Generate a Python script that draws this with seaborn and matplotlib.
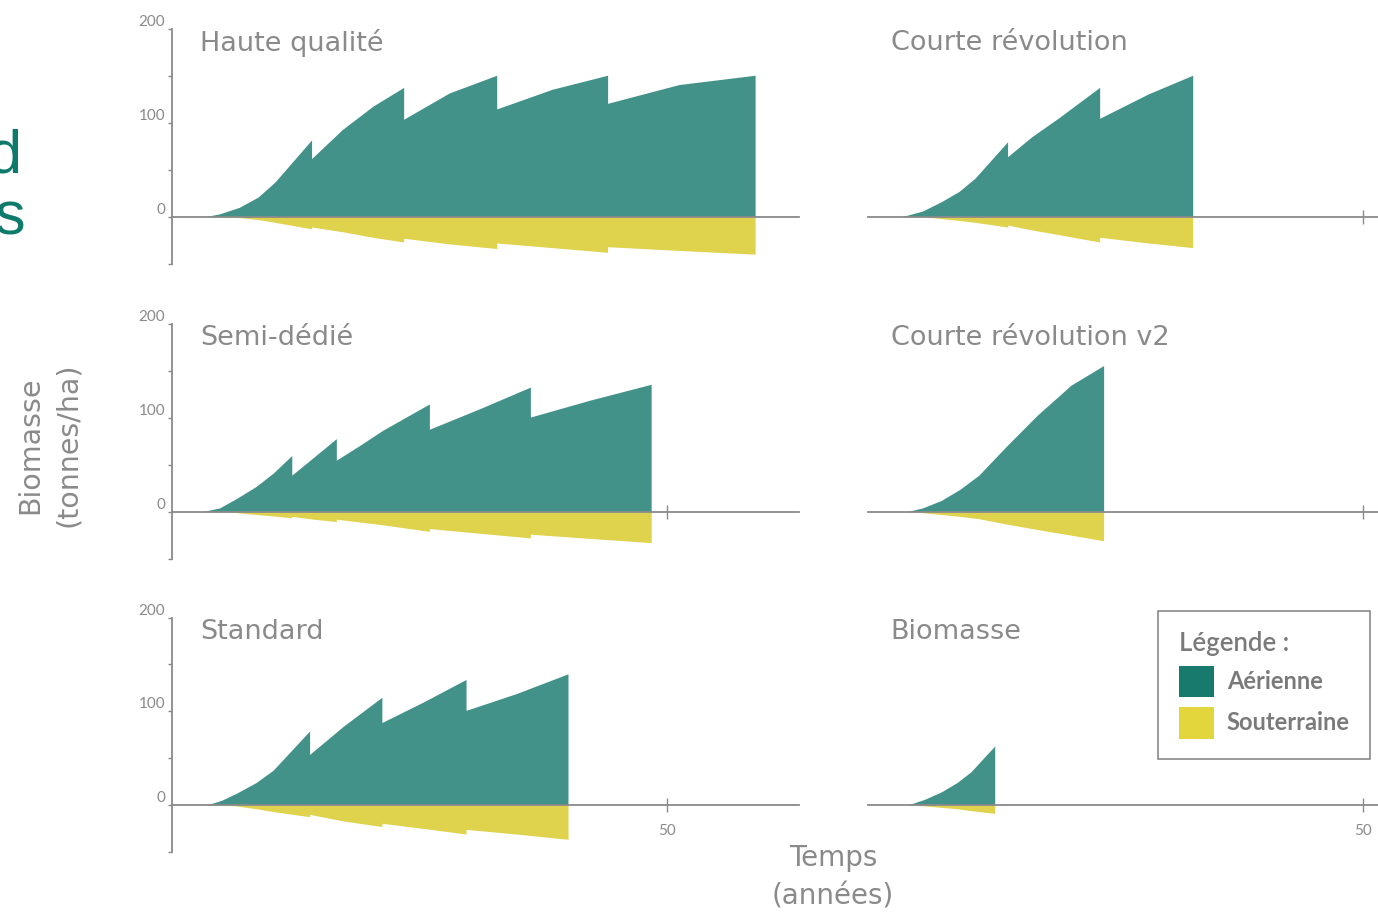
import matplotlib
matplotlib.use("Agg")
import matplotlib.pyplot as plt
from matplotlib.patches import Patch
import seaborn as sns

# ---- data (years, t/ha) ----
# a year appears twice where a harvest cuts the standing biomass
hq_years = [3.3, 4.8, 6.8, 8.7, 10.4, 14.1, 14.1, 17.2, 20.3, 23.4, 23.4, 28.0, 32.8, 32.8, 38.4, 44.0, 44.0, 51.2, 58.9]
hq_aerial = [0, 3, 10, 21, 37, 82, 62, 93, 118, 138, 104, 132, 151, 115, 136, 151, 121, 141, 151]
hq_below = [0, 0, -1, -3, -6, -13, -11, -16, -22, -27, -23, -29, -34, -28, -33, -38, -32, -36, -40]

cr_years = [3.4, 5.5, 7.4, 9.2, 10.8, 14.1, 14.1, 16.5, 19.2, 23.4, 23.4, 28.3, 32.8]
cr_aerial = [0, 6, 16, 27, 41, 80, 64, 85, 105, 138, 105, 131, 151]
cr_below = [0, 0, -2, -4, -6, -11, -9, -14, -19, -27, -22, -28, -33]

sd_years = [3.0, 4.8, 6.5, 8.5, 10.2, 12.1, 12.1, 14.3, 16.6, 16.6, 19.0, 21.3, 26.0, 26.0, 31.1, 36.2, 36.2, 42.2, 48.4]
sd_aerial = [0, 4, 14, 27, 41, 60, 39, 58, 78, 55, 71, 87, 115, 88, 110, 133, 101, 119, 136]
sd_below = [0, 0, -1, -3, -4.5, -6.5, -5, -8, -10.5, -8, -11, -14, -21, -18, -23, -28, -24, -28.5, -33]

cr2_years = [3.9, 5.5, 7.4, 9.3, 11.2, 13.9, 17.1, 20.5, 23.8]
cr2_aerial = [0, 4, 12, 24, 39, 69, 103, 135, 156]
cr2_below = [0, -1, -3, -5, -7.5, -13, -19, -25, -31]

st_years = [3.5, 5.0, 6.5, 8.5, 10.2, 13.9, 13.9, 17.3, 21.2, 21.2, 25.4, 29.7, 29.7, 34.8, 40.0]
st_aerial = [0, 5, 12.5, 24, 37, 79, 54, 84, 115, 88, 110, 134, 101, 119, 140]
st_below = [0, 0, -1, -4, -7, -12.5, -10, -17, -23, -19.5, -25, -31, -26, -31, -36.6]

bm_years = [4.0, 5.7, 7.4, 9.0, 10.4, 12.8]
bm_aerial = [0, 6, 14, 24, 35.5, 63]
bm_below = [0, -1, -2.5, -4, -6, -9]

titles = ["Haute qualité", "Courte révolution", "Semi-dédié",
          "Courte révolution v2", "Standard", "Biomasse"]
series = [(hq_years, hq_aerial, hq_below), (cr_years, cr_aerial, cr_below),
          (sd_years, sd_aerial, sd_below), (cr2_years, cr2_aerial, cr2_below),
          (st_years, st_aerial, st_below), (bm_years, bm_aerial, bm_below)]

TEAL = "#43928a"
YELLOW = "#dfd24d"
TEAL_LEG = "#187a6d"
YELLOW_LEG = "#e3d53c"
GREY = "#8a8a8a"
TXT = ["DejaVu Sans"]

sns.set_theme(style="white")
plt.rcParams["font.family"] = ["Lato", "DejaVu Sans"]

W, H = 1378, 916
fig = plt.figure(figsize=(W / 100, H / 100), dpi=100)

px_year = 9.9      # pixels per year
px_unit = 0.937    # pixels per t/ha
col_left = [172, 868]
row_zero = [216.7, 511.7, 805]

for i, (title, (yrs, aer, bel)) in enumerate(zip(titles, series)):
    row, col = divmod(i, 2)
    left = col_left[col]
    bottom = row_zero[row] + 50 * px_unit
    ax = fig.add_axes([left / W, 1 - bottom / H, 64 * px_year / W, 250 * px_unit / H])
    ax.fill_between(yrs, 0, aer, color=TEAL, lw=0)
    ax.fill_between(yrs, 0, bel, color=YELLOW, lw=0)
    ax.set_xlim(0, 64)
    ax.set_ylim(-50, 200)
    sns.despine(ax=ax, top=True, right=True, left=(col == 1))

    ax.spines["bottom"].set_position(("data", 0))
    ax.spines["bottom"].set_bounds(0, 63.3 if col == 0 else 64)
    ax.spines["bottom"].set_color(GREY)
    ax.spines["bottom"].set_linewidth(1.3)
    ax.set_xticks([50])
    ax.tick_params(axis="x", direction="inout", length=10, width=1, color=GREY,
                   labelsize=11, labelcolor=GREY, pad=9,
                   bottom=True, labelbottom=(row == 2))

    if col == 0:
        ax.spines["left"].set_bounds(-50, 200)
        ax.spines["left"].set_color(GREY)
        ax.spines["left"].set_linewidth(1.3)
        ax.set_yticks([-50, 0, 50, 100, 150, 200])
        ax.set_yticklabels(["", "0", "", "100", "", "200"])
        ax.tick_params(axis="y", direction="out", length=3, width=1, color=GREY,
                       labelsize=11, labelcolor=GREY, pad=2, left=True)
        for lab in ax.get_yticklabels():
            lab.set_verticalalignment("bottom")
    else:
        ax.set_yticks([])

    ax.text(0.044 if col == 0 else 0.036, 0.94, title, transform=ax.transAxes,
            fontsize=19.5, color=GREY, ha="left", va="center", family=TXT)
    ax.patch.set_alpha(0)

# axis titles
fig.text(30 / W, 1 - 445 / H, "Biomasse", rotation=90, ha="center", va="center",
         fontsize=20.5, color=GREY, family=TXT)
fig.text(68 / W, 1 - 445 / H, "(tonnes/ha)", rotation=90, ha="center", va="center",
         fontsize=20.5, color=GREY, family=TXT)
fig.text(833 / W, 1 - 858 / H, "Temps", ha="center", va="center", fontsize=20,
         color=GREY, family=TXT)
fig.text(833 / W, 1 - 896 / H, "(années)", ha="center", va="center", fontsize=20,
         color=GREY, family=TXT)

# cut-off slide text on the left edge
fig.text(21 / W, 1 - 157 / H, "d", ha="right", va="center", fontsize=44,
         color="#0e7a6b", family=["Liberation Sans", "DejaVu Sans"])
fig.text(25 / W, 1 - 219 / H, "s", ha="right", va="center", fontsize=44,
         color="#0e7a6b", family=["Liberation Sans", "DejaVu Sans"])

handles = [Patch(facecolor=TEAL_LEG, edgecolor="none"),
           Patch(facecolor=YELLOW_LEG, edgecolor="none")]
leg = fig.legend(handles, ["Aérienne", "Souterraine"], title="Légende :",
                 loc="upper right", bbox_to_anchor=(1370 / W, 1 - 611 / H),
                 bbox_transform=fig.transFigure, frameon=True, fancybox=False,
                 edgecolor=GREY, framealpha=1, alignment="left",
                 prop={"size": 17, "weight": "bold"},
                 title_fontproperties={"size": 18.5, "weight": "semibold"},
                 handlelength=1.5, handleheight=1.7, handletextpad=0.55,
                 labelspacing=0.4, borderpad=0.85, borderaxespad=0)
leg.get_frame().set_linewidth(1.2)
leg.get_title().set_color("#7a7a7a")
for t in leg.get_texts():
    t.set_color("#7a7a7a")

fig.savefig("out.png", dpi=100)
